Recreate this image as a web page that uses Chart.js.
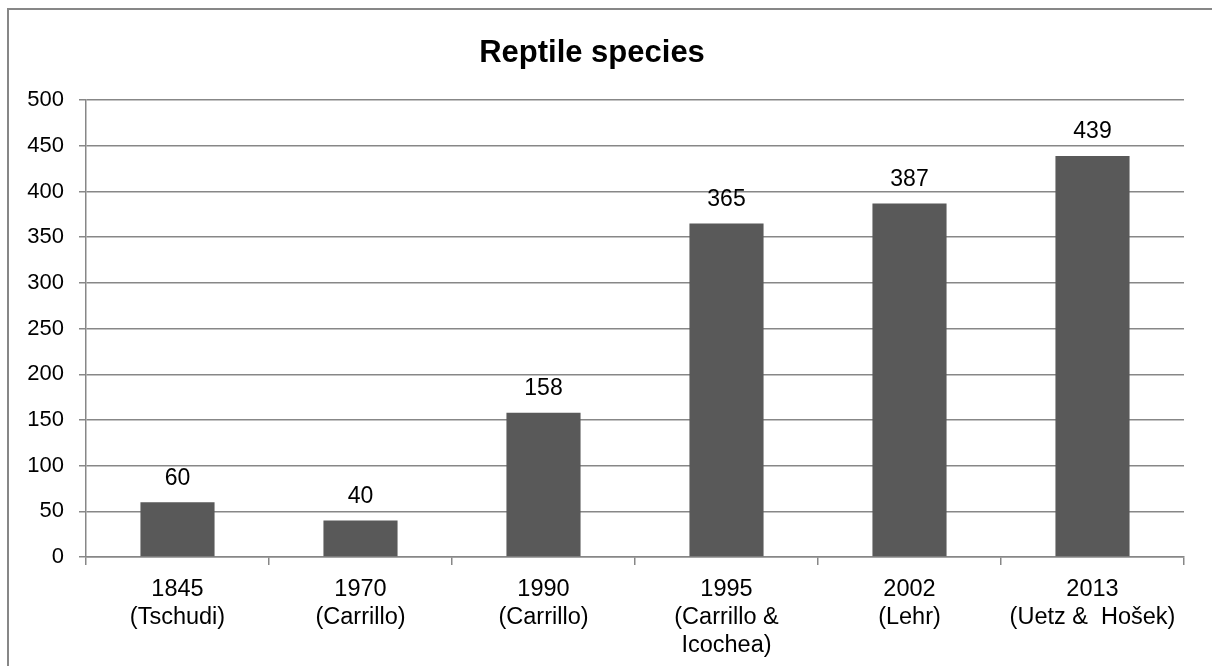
<!DOCTYPE html>
<html>
<head>
<meta charset="utf-8">
<title>Reptile species</title>
<script src="https://cdn.jsdelivr.net/npm/chart.js@4/dist/chart.umd.min.js"></script>
<style>
  html, body { margin: 0; padding: 0; background: #ffffff; }
  #wrap { position: relative; width: 1212px; height: 666px; overflow: hidden; }
  canvas { display: block; }
</style>
</head>
<body>
<div id="wrap"><canvas id="chart" width="1212" height="666"></canvas></div>
<script>
// Survey years with the source of each count, one entry per axis line
const categories = [
  ['1845', '(Tschudi)'],
  ['1970', '(Carrillo)'],
  ['1990', '(Carrillo)'],
  ['1995', '(Carrillo &', 'Icochea)'],
  ['2002', '(Lehr)'],
  ['2013', '(Uetz &  Hošek)']
];
// Number of reptile species recorded
const speciesCounts = [60, 40, 158, 365, 387, 439];
// Y axis range and step
const yMin = 0;
const yMax = 500;
const yStep = 50;

const FONT = '"Liberation Sans", Arial, sans-serif';
const LINE = '#878787';

// Frame around the whole figure
const framePlugin = {
  id: 'frame',
  beforeDraw(chart) {
    const ctx = chart.ctx;
    ctx.save();
    ctx.fillStyle = '#ffffff';
    ctx.fillRect(0, 0, chart.width, chart.height);
    ctx.strokeStyle = LINE;
    ctx.lineWidth = 2;
    ctx.strokeRect(8, 9, chart.width + 50, chart.height + 50);
    ctx.restore();
  }
};

// Count printed above each bar
const valueLabelPlugin = {
  id: 'valueLabels',
  afterDatasetsDraw(chart) {
    const ctx = chart.ctx;
    const meta = chart.getDatasetMeta(0);
    const values = chart.data.datasets[0].data;
    ctx.save();
    ctx.font = '23px ' + FONT;
    ctx.fillStyle = '#000000';
    ctx.textAlign = 'center';
    ctx.textBaseline = 'middle';
    meta.data.forEach((bar, i) => {
      ctx.fillText(String(values[i]), bar.x, bar.y - 24);
    });
    ctx.restore();
  }
};

new Chart(document.getElementById('chart'), {
  type: 'bar',
  data: {
    labels: categories,
    datasets: [{
      data: speciesCounts,
      backgroundColor: '#595959',
      borderWidth: 0,
      categoryPercentage: 1.0,
      barPercentage: 0.405
    }]
  },
  options: {
    responsive: false,
    animation: false,
    devicePixelRatio: 1,
    layout: { padding: { left: 0, right: 28, top: 0, bottom: 0 } },
    plugins: {
      legend: { display: false },
      tooltip: { enabled: false },
      title: {
        display: true,
        text: 'Reptile species',
        color: '#000000',
        font: { family: FONT, size: 31, weight: 'bold' },
        padding: { top: 35, bottom: 28 }
      }
    },
    scales: {
      x: {
        grid: {
          offset: true,
          drawOnChartArea: false,
          drawTicks: true,
          tickLength: 8,
          color: LINE,
          lineWidth: 1.5
        },
        border: { color: LINE, width: 1.5 },
        ticks: {
          color: '#000000',
          font: { family: FONT, size: 23.5 },
          padding: 10,
          maxRotation: 0,
          autoSkip: false
        },
        afterFit(scale) { scale.height = 109; }
      },
      y: {
        min: yMin,
        max: yMax,
        grid: {
          color: LINE,
          lineWidth: 1.5,
          drawTicks: true,
          tickLength: 7
        },
        border: { color: LINE, width: 1.5 },
        ticks: {
          stepSize: yStep,
          color: '#000000',
          font: { family: FONT, size: 22 },
          padding: 15
        },
        afterFit(scale) { scale.width = 86; }
      }
    }
  },
  plugins: [framePlugin, valueLabelPlugin]
});
</script>
</body>
</html>
